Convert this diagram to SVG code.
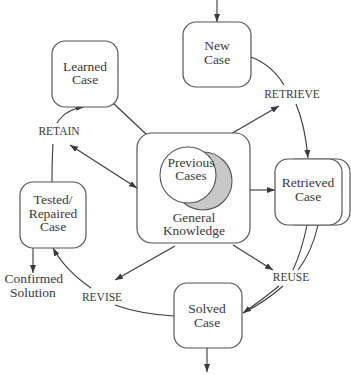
<svg xmlns="http://www.w3.org/2000/svg" width="351" height="375" viewBox="0 0 351 375">
<defs>
<marker id="ah" viewBox="0 0 8 6" refX="8" refY="3" markerWidth="8" markerHeight="6" markerUnits="userSpaceOnUse" orient="auto-start-reverse">
<path d="M0,0 L8,3 L0,6 z" fill="#3a3a3a"/>
</marker>
<style>
.box{fill:#fff;stroke:#555;stroke-width:1.2}
.t{font-size:13.5px;fill:#3a3a3a;text-anchor:middle}
.lb{font-size:11.5px;fill:#3a3a3a;text-anchor:middle}
.c{fill:none;stroke:#3a3a3a;stroke-width:1.1}
.a{marker-end:url(#ah)}
</style>
</defs>
<rect width="351" height="375" fill="#fff"/>
<g font-family="'Liberation Serif', 'DejaVu Serif', serif">
<g id="connectors">
<path class="c a" d="M217,0 L217,22"/>
<path class="c" d="M251,57 Q272,65 284,85"/>
<path class="c a" d="M296,104 Q305,125 308,158"/>
<path class="c a" d="M217,142 L279,106"/>
<path class="c a" d="M113,103 L161,148"/>
<path class="c a" d="M70,145 L137,188" marker-start="url(#ah)"/>
<path class="c a" d="M250,190 L275,190"/>
<path class="c" d="M307,225 Q302,250 293,270"/>
<path class="c" d="M318,225 Q312,252 298,270"/>
<path class="c" d="M283,286 Q265,302 243,313"/>
<path class="c a" d="M279,286 Q262,300 243,313"/>
<path class="c a" d="M233,245 L273,270"/>
<path class="c a" d="M175,246 L115,280"/>
<path class="c" d="M174,316 Q140,314 115,305"/>
<path class="c a" d="M91,288 Q65,270 53,248"/>
<path class="c" d="M52,182 Q52,160 53,144"/>
<path class="c a" d="M57,123 Q66,109 84,107"/>
<path class="c a" d="M33,248 L33,273"/>
<path class="c a" d="M207,348 L207,372"/>
<text class="lb" x="292" y="98">RETRIEVE</text>
<text class="lb" x="59" y="135">RETAIN</text>
<text class="lb" x="291" y="281">REUSE</text>
<text class="lb" x="102" y="301">REVISE</text>
</g>
<g id="new-case">
<rect class="box" x="183" y="22" width="68" height="65" rx="13"/>
<text class="t" x="217" y="50">New</text>
<text class="t" x="217" y="64">Case</text>
</g>
<g id="learned-case">
<rect class="box" x="52" y="41" width="66" height="66" rx="13"/>
<text class="t" x="85" y="71">Learned</text>
<text class="t" x="85" y="84">Case</text>
</g>
<g id="general-knowledge">
<rect class="box" x="137" y="133" width="113" height="110" rx="15"/>
<circle cx="203" cy="181" r="29" fill="#c8c8c8" stroke="#555" stroke-width="1.1"/>
<circle cx="188" cy="175" r="28" fill="#fff" stroke="#555" stroke-width="1.1"/>
<text class="t" x="191" y="167">Previous</text>
<text class="t" x="191" y="180">Cases</text>
<text class="t" x="194" y="222">General</text>
<text class="t" x="194" y="235">Knowledge</text>
</g>
<g id="retrieved-case">
<rect class="box" x="283" y="159" width="67" height="66" rx="13"/>
<rect class="box" x="275" y="159" width="67" height="66" rx="13"/>
<text class="t" x="308" y="187">Retrieved</text>
<text class="t" x="308" y="201">Case</text>
</g>
<g id="solved-case">
<rect class="box" x="174" y="283" width="68" height="65" rx="13"/>
<text class="t" x="207" y="313">Solved</text>
<text class="t" x="207" y="327">Case</text>
</g>
<g id="tested-case">
<rect class="box" x="20" y="182" width="66" height="66" rx="13"/>
<text class="t" x="53" y="204">Tested/</text>
<text class="t" x="53" y="218">Repaired</text>
<text class="t" x="53" y="231">Case</text>
</g>
<g id="confirmed-solution">
<text class="t" x="63" y="283" style="text-anchor:end">Confirmed</text>
<text class="t" x="33" y="297">Solution</text>
</g>
</g>
</svg>
